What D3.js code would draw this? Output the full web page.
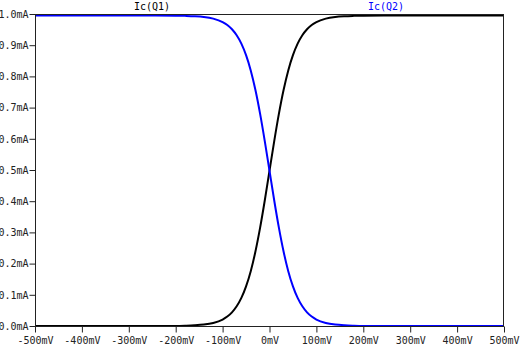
<!DOCTYPE html>
<html>
<head>
<meta charset="utf-8">
<script src="https://cdn.jsdelivr.net/npm/d3@7"></script>
<style>
  body { margin: 0; background: #fff; }
  svg { display: block; }
  text { font-family: "DejaVu Sans Mono", monospace; font-size: 10px; fill: #222; }
</style>
</head>
<body>
<svg id="chart" width="523" height="346"></svg>
<script>
// sweep voltage (mV)
const vin = [-500, -400, -300, -200, -180, -160, -140, -120, -100, -90, -80, -70, -60, -50, -40, -30, -20, -10,
  0, 10, 20, 30, 40, 50, 60, 70, 80, 90, 100, 120, 140, 160, 180, 200, 300, 400, 500];
// collector currents (mA)
const icQ1 = [0.0000, 0.0000, 0.0000, 0.0004, 0.0010, 0.0021, 0.0045, 0.0098, 0.0208, 0.0302, 0.0439, 0.0632, 0.0900, 0.1270, 0.1758, 0.2386, 0.3151, 0.4030,
  0.4975, 0.5920, 0.6799, 0.7564, 0.8192, 0.8680, 0.9050, 0.9318, 0.9511, 0.9648, 0.9742, 0.9852, 0.9905, 0.9929, 0.9940, 0.9946, 0.9950, 0.9950, 0.9950];
const icQ2 = [0.9950, 0.9950, 0.9950, 0.9946, 0.9940, 0.9929, 0.9905, 0.9852, 0.9742, 0.9648, 0.9511, 0.9318, 0.9050, 0.8680, 0.8192, 0.7564, 0.6799, 0.5920,
  0.4975, 0.4030, 0.3151, 0.2386, 0.1758, 0.1270, 0.0900, 0.0632, 0.0439, 0.0302, 0.0208, 0.0098, 0.0045, 0.0021, 0.0010, 0.0004, 0.0000, 0.0000, 0.0000];
const xTicks = [-500, -400, -300, -200, -100, 0, 100, 200, 300, 400, 500];
const yTicks = [0.0, 0.1, 0.2, 0.3, 0.4, 0.5, 0.6, 0.7, 0.8, 0.9, 1.0];
const seriesNames = ["Ic(Q1)", "Ic(Q2)"];
const seriesColors = ["#000000", "#0000ff"];

const svg = d3.select("#chart");
const padL = 35, padR = 504, padT = 14, padB = 326;

const x = d3.scaleLinear().domain([-500, 500]).range([padL, padR]);
const y = d3.scaleLinear().domain([0, 1.0]).range([padB, padT]);

// curves first, frame on top
const line = d3.line()
  .x((d, i) => x(vin[i]))
  .y(d => y(d))
  .curve(d3.curveMonotoneX);

[icQ1, icQ2].forEach((s, k) => {
  svg.append("path")
    .datum(s)
    .attr("d", line)
    .attr("fill", "none")
    .attr("stroke", seriesColors[k])
    .attr("stroke-width", 2);
});

svg.append("rect")
  .attr("x", padL + 0.5).attr("y", padT + 0.5)
  .attr("width", padR - padL - 1).attr("height", padB - padT)
  .attr("fill", "none").attr("stroke", "#222").attr("stroke-width", 1);

const xAxis = svg.append("g")
  .attr("transform", `translate(0,${padB + 0.5})`)
  .call(d3.axisBottom(x).tickValues(xTicks).tickSize(6).tickPadding(4)
    .tickFormat(d => d + "mV"));

const yAxis = svg.append("g")
  .attr("transform", `translate(${padL + 0.5},0)`)
  .call(d3.axisLeft(y).tickValues(yTicks).tickSize(6).tickPadding(1)
    .tickFormat(d => d3.format(".1f")(d) + "mA"));

[xAxis, yAxis].forEach(g => {
  g.select(".domain").remove();
  g.selectAll(".tick line").attr("stroke", "#222");
  g.selectAll(".tick text").attr("fill", "#222").style("font-size", "10px");
});

// trace names along the top
svg.append("text").attr("x", 152).attr("y", 10).attr("text-anchor", "middle")
  .style("fill", seriesColors[0]).text(seriesNames[0]);
svg.append("text").attr("x", 386).attr("y", 10).attr("text-anchor", "middle")
  .style("fill", seriesColors[1]).text(seriesNames[1]);
</script>
</body>
</html>
